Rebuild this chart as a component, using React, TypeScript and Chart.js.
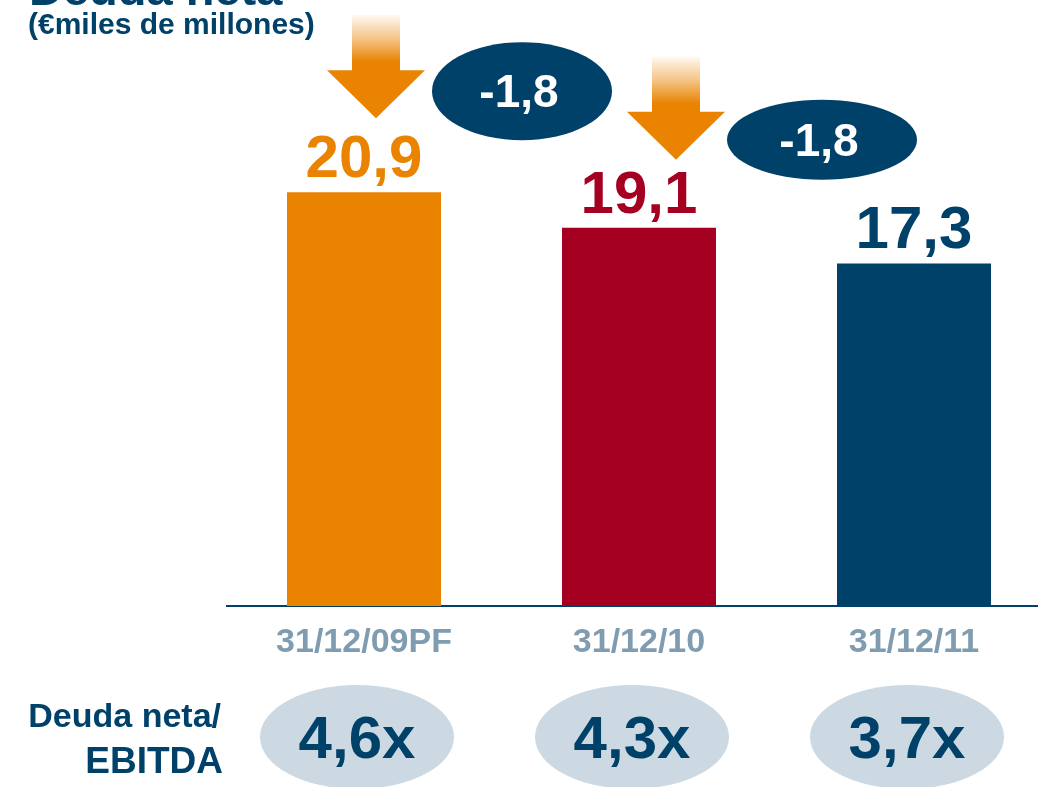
import React, { useEffect, useRef } from 'react';
import { Chart, registerables } from 'chart.js';

Chart.register(...registerables);

const categories = ['31/12/09PF', '31/12/10', '31/12/11'];
const netDebt = [20.9, 19.1, 17.3];
const debtLabels = ['20,9', '19,1', '17,3'];
const changeLabels = ['-1,8', '-1,8'];
const leverageLabels = ['4,6x', '4,3x', '3,7x'];
const barColors = ['#E98300', '#A50021', '#00416A'];

const NAVY = '#00416A';
const FONT = '"Liberation Sans", Arial, Helvetica, sans-serif';

function drawArrow(ctx: CanvasRenderingContext2D, cx: number, tipY: number) {
  const shaftTop = tipY - 103;
  const headTop = tipY - 48;
  const sw = 24;
  const hw = 49;
  const g = ctx.createLinearGradient(0, shaftTop, 0, headTop);
  g.addColorStop(0, 'rgba(233,131,0,0.05)');
  g.addColorStop(0.45, 'rgba(233,131,0,0.5)');
  g.addColorStop(0.85, 'rgba(233,131,0,1)');
  g.addColorStop(1, 'rgba(233,131,0,1)');
  ctx.save();
  ctx.fillStyle = g;
  ctx.fillRect(cx - sw, shaftTop, sw * 2, headTop - shaftTop + 1);
  ctx.fillStyle = '#E98300';
  ctx.beginPath();
  ctx.moveTo(cx - hw, headTop);
  ctx.lineTo(cx + hw, headTop);
  ctx.lineTo(cx, tipY);
  ctx.closePath();
  ctx.fill();
  ctx.restore();
}

function drawEllipse(ctx: CanvasRenderingContext2D, cx: number, cy: number, rx: number, ry: number, color: string) {
  ctx.save();
  ctx.fillStyle = color;
  ctx.beginPath();
  ctx.ellipse(cx, cy, rx, ry, 0, 0, Math.PI * 2);
  ctx.fill();
  ctx.restore();
}

const decorPlugin = {
  id: 'decor',
  afterDatasetsDraw(chart: any) {
    const ctx: CanvasRenderingContext2D = chart.ctx;
    const x = chart.scales.x;
    const y = chart.scales.y;
    const cx = netDebt.map((_, i) => x.getPixelForValue(i));
    const top = netDebt.map((v) => y.getPixelForValue(v));

    // Title
    ctx.save();
    ctx.fillStyle = NAVY;
    ctx.textAlign = 'left';
    ctx.textBaseline = 'alphabetic';
    ctx.font = `bold 47px ${FONT}`;
    ctx.fillText('Deuda neta', 29, 5);
    ctx.font = `bold 30px ${FONT}`;
    ctx.fillText('(€miles de millones)', 28, 34);
    ctx.restore();

    // Arrows
    drawArrow(ctx, cx[0] + 12, top[0] - 74);
    drawArrow(ctx, cx[1] + 37, top[1] - 68);

    // Value labels
    ctx.save();
    ctx.textAlign = 'center';
    ctx.textBaseline = 'alphabetic';
    ctx.font = `bold 60px ${FONT}`;
    debtLabels.forEach((t, i) => {
      ctx.fillStyle = barColors[i];
      ctx.fillText(t, cx[i], top[i] - 15);
    });
    ctx.restore();

    // Change ellipses
    const ch = [
      { x: cx[0] + 158, y: top[0] - 101, rx: 90, ry: 49 },
      { x: cx[1] + 183, y: top[1] - 88, rx: 95, ry: 40 },
    ];
    ch.forEach((e, i) => {
      drawEllipse(ctx, e.x, e.y, e.rx, e.ry, NAVY);
      ctx.save();
      ctx.fillStyle = '#FFFFFF';
      ctx.textAlign = 'center';
      ctx.textBaseline = 'alphabetic';
      ctx.font = `bold 46px ${FONT}`;
      ctx.fillText(changeLabels[i], e.x - 3, e.y + 16);
      ctx.restore();
    });

    // Leverage row
    const baseY = y.getPixelForValue(0);
    leverageLabels.forEach((t, i) => {
      const ex = cx[i] - 7;
      const ey = baseY + 131;
      drawEllipse(ctx, ex, ey, 97, 52, '#CCD9E2');
      ctx.save();
      ctx.fillStyle = NAVY;
      ctx.textAlign = 'center';
      ctx.textBaseline = 'alphabetic';
      ctx.font = `bold 60px ${FONT}`;
      ctx.fillText(t, ex, baseY + 152);
      ctx.restore();
    });

    ctx.save();
    ctx.fillStyle = NAVY;
    ctx.textAlign = 'right';
    ctx.textBaseline = 'alphabetic';
    ctx.font = `bold 34px ${FONT}`;
    ctx.fillText('Deuda neta/', 221, baseY + 121);
    ctx.font = `bold 37px ${FONT}`;
    ctx.fillText('EBITDA', 223, baseY + 167);
    ctx.restore();
  },
};

export default function App() {
  const ref = useRef<HTMLCanvasElement | null>(null);
  useEffect(() => {
    if (!ref.current) return;
    const chart = new Chart(ref.current, {
      type: 'bar',
      data: {
        labels: categories,
        datasets: [
          {
            data: netDebt,
            backgroundColor: barColors,
            borderWidth: 0,
            barPercentage: 0.56,
            categoryPercentage: 1,
          },
        ],
      },
      options: {
        responsive: false,
        animation: false,
        devicePixelRatio: 1,
        layout: { padding: { left: 226.5, right: 8.5, top: 12, bottom: 131 } },
        plugins: { legend: { display: false }, tooltip: { enabled: false }, title: { display: false } },
        scales: {
          x: {
            grid: { display: false, drawTicks: false },
            border: { display: true, color: NAVY, width: 2 },
            ticks: {
              color: '#7F9CB0',
              font: { family: FONT, size: 34, weight: 'bold' },
              padding: 16,
              maxRotation: 0,
              autoSkip: false,
            },
            afterFit: (s: any) => {
              s.height = 50;
            },
          },
          y: { display: false, min: 0, max: 30 },
        },
      },
      plugins: [decorPlugin],
    } as any);
    return () => chart.destroy();
  }, []);
  return (
    <div style={{ position: 'absolute', left: 0, top: 0, width: 1038, height: 787, overflow: 'hidden', background: '#fff' }}>
      <canvas ref={ref} width={1060} height={787} style={{ display: 'block' }} />
    </div>
  );
}
